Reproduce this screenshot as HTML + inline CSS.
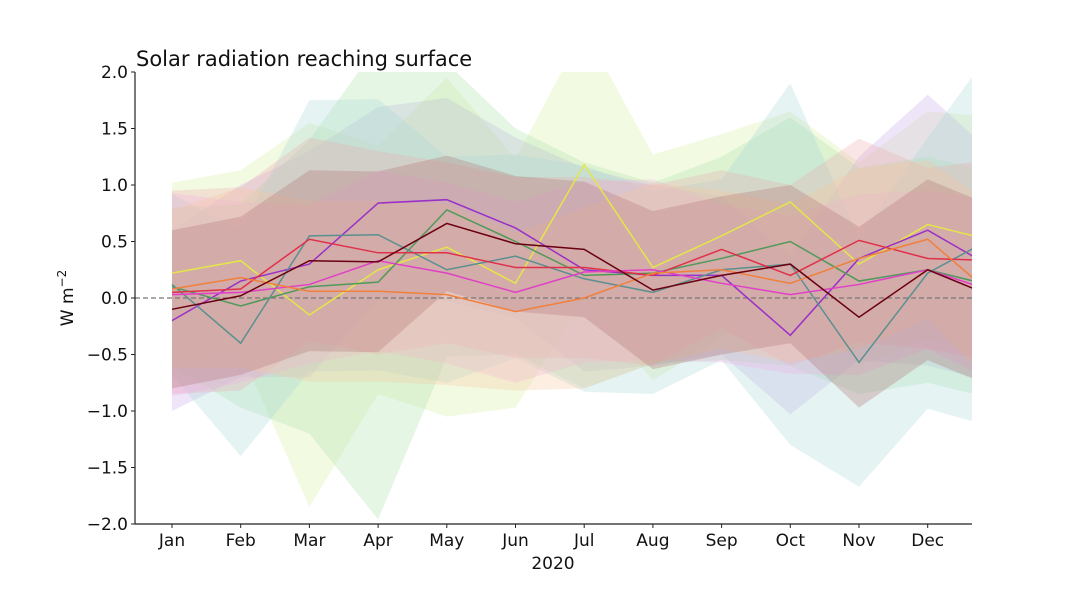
<!DOCTYPE html>
<html><head><meta charset="utf-8"><style>
html,body{margin:0;padding:0;background:#fff;width:1080px;height:600px;overflow:hidden}
svg text{font-family:"DejaVu Sans","Liberation Sans",sans-serif;fill:#111}
</style></head><body>
<svg id="chart" width="1080" height="600" viewBox="0 0 1080 600" xmlns="http://www.w3.org/2000/svg">
<defs><clipPath id="plotclip"><rect x="135" y="72" width="837" height="452"/></clipPath></defs>
<text x="136" y="66" font-size="21">Solar radiation reaching surface</text>
<g id="bands" clip-path="url(#plotclip)"></g>
<line x1="135" x2="972" y1="298" y2="298" stroke="#777" stroke-width="1.3" stroke-dasharray="5,3"/>
<g id="lines" clip-path="url(#plotclip)"></g>
<g id="axes"></g>
<text transform="translate(73,298) rotate(-90)" text-anchor="middle" font-size="17">W m<tspan dy="-7" font-size="12">−2</tspan></text>
<text x="553" y="569" text-anchor="middle" font-size="17">2020</text>
</svg>
<script>
const months = ["Jan","Feb","Mar","Apr","May","Jun","Jul","Aug","Sep","Oct","Nov","Dec"];
const yTicks = [-2.0,-1.5,-1.0,-0.5,0.0,0.5,1.0,1.5,2.0];
const seriesNames = ["yellow","purple","green","teal","red","magenta","orange","brown"];
const lineColors = ["#e4e64a","#9a30c8","#4f9a5a","#5a9090","#e0304a","#e040c8","#f0803c","#6a0010"];
const bandColors = ["#d8f0a0","#c8a8e8","#a8e0a8","#a8d8d8","#f0a8b0","#f0b0e0","#f8c8a0","#b07070"];
const vYellow  = [0.22,0.33,-0.15,0.25,0.45,0.13,1.18,0.27,0.55,0.85,0.30,0.65,0.50];
const vPurple  = [-0.20,0.15,0.30,0.84,0.87,0.62,0.25,0.20,0.20,-0.33,0.35,0.60,0.25];
const vGreen   = [0.10,-0.07,0.10,0.14,0.78,0.50,0.20,0.22,0.35,0.50,0.15,0.25,0.10];
const vTeal    = [0.12,-0.40,0.55,0.56,0.25,0.37,0.17,0.05,0.25,0.30,-0.57,0.22,0.55];
const vRed     = [0.05,0.08,0.52,0.40,0.40,0.27,0.27,0.20,0.43,0.20,0.51,0.35,0.33];
const vMagenta = [0.03,0.05,0.12,0.33,0.22,0.05,0.23,0.25,0.13,0.03,0.12,0.25,0.05];
const vOrange  = [0.08,0.18,0.06,0.06,0.03,-0.12,0.00,0.22,0.25,0.13,0.35,0.52,0.00];
const vBrown   = [-0.10,0.02,0.33,0.32,0.66,0.48,0.43,0.07,0.20,0.30,-0.17,0.25,0.00];
const sYellow  = [0.80,0.80,1.70,1.10,1.50,1.10,1.20,1.00,0.90,0.80,0.90,1.00,1.10];
const sPurple  = [0.80,0.85,1.00,0.85,0.90,0.80,0.90,0.80,0.70,0.70,0.90,1.20,1.00];
const sGreen   = [0.70,0.90,1.30,2.10,1.30,1.00,1.00,0.80,0.90,1.10,1.00,1.00,1.00];
const sTeal    = [0.80,1.00,1.20,1.20,1.00,0.90,1.00,0.90,0.80,1.60,1.10,1.20,1.70];
const sRed     = [0.90,0.90,0.90,0.90,0.80,0.80,0.80,0.80,0.70,0.80,0.90,0.80,0.90];
const sMagenta = [0.90,0.80,0.70,0.80,0.80,0.80,0.80,0.80,0.70,0.70,0.80,0.70,0.80];
const sOrange  = [0.70,0.80,0.80,0.80,0.80,0.70,0.80,0.80,0.70,0.70,0.80,0.70,0.80];
const sBrown   = [0.70,0.70,0.80,0.80,0.60,0.60,0.60,0.70,0.70,0.70,0.80,0.80,0.80];
const allValues = [vYellow,vPurple,vGreen,vTeal,vRed,vMagenta,vOrange,vBrown];
const allSpreads = [sYellow,sPurple,sGreen,sTeal,sRed,sMagenta,sOrange,sBrown];

const NS="http://www.w3.org/2000/svg";
const x0=172, dx=68.7, yZero=298, yScale=113;
function xs(i){return x0+i*dx;}
function ys(v){return yZero-v*yScale;}
const bands=document.getElementById('bands'), lines=document.getElementById('lines'), axes=document.getElementById('axes');

allValues.forEach((vals,k)=>{
  const sp=allSpreads[k];
  let up=vals.map((v,i)=>xs(i)+','+ys(v+sp[i]));
  let lo=vals.map((v,i)=>xs(i)+','+ys(v-sp[i])).reverse();
  const p=document.createElementNS(NS,'polygon');
  p.setAttribute('points',up.concat(lo).join(' '));
  p.setAttribute('fill',bandColors[k]);
  p.setAttribute('fill-opacity','0.3');
  
  
  bands.appendChild(p);
});
allValues.forEach((vals,k)=>{
  const l=document.createElementNS(NS,'polyline');
  l.setAttribute('points',vals.map((v,i)=>xs(i)+','+ys(v)).join(' '));
  l.setAttribute('fill','none');
  l.setAttribute('stroke',lineColors[k]);
  l.setAttribute('stroke-width','1.5');
  
  
  lines.appendChild(l);
});
function mk(tag,attrs){const e=document.createElementNS(NS,tag);for(const a in attrs)e.setAttribute(a,attrs[a]);return e;}
const ysp=mk('line',{x1:135,x2:135,y1:72,y2:524,stroke:'#222','stroke-width':1.2});


axes.appendChild(ysp);
const xsp=mk('line',{x1:135,x2:972,y1:524,y2:524,stroke:'#222','stroke-width':1.2});


axes.appendChild(xsp);
yTicks.forEach(t=>{
  const y=ys(t);
  axes.appendChild(mk('line',{x1:131,x2:135,y1:y,y2:y,stroke:'#222'}));
  const tx=mk('text',{x:128,y:y+6,'text-anchor':'end','font-size':17});
  tx.textContent=(t<0?'−':'')+Math.abs(t).toFixed(1);
  
  
  axes.appendChild(tx);
});
months.forEach((m,i)=>{
  const x=xs(i);
  axes.appendChild(mk('line',{x1:x,x2:x,y1:524,y2:528,stroke:'#222'}));
  const tx=mk('text',{x:x,y:546,'text-anchor':'middle','font-size':17});
  tx.textContent=m;
  
  
  axes.appendChild(tx);
});
</script>
</body></html>
